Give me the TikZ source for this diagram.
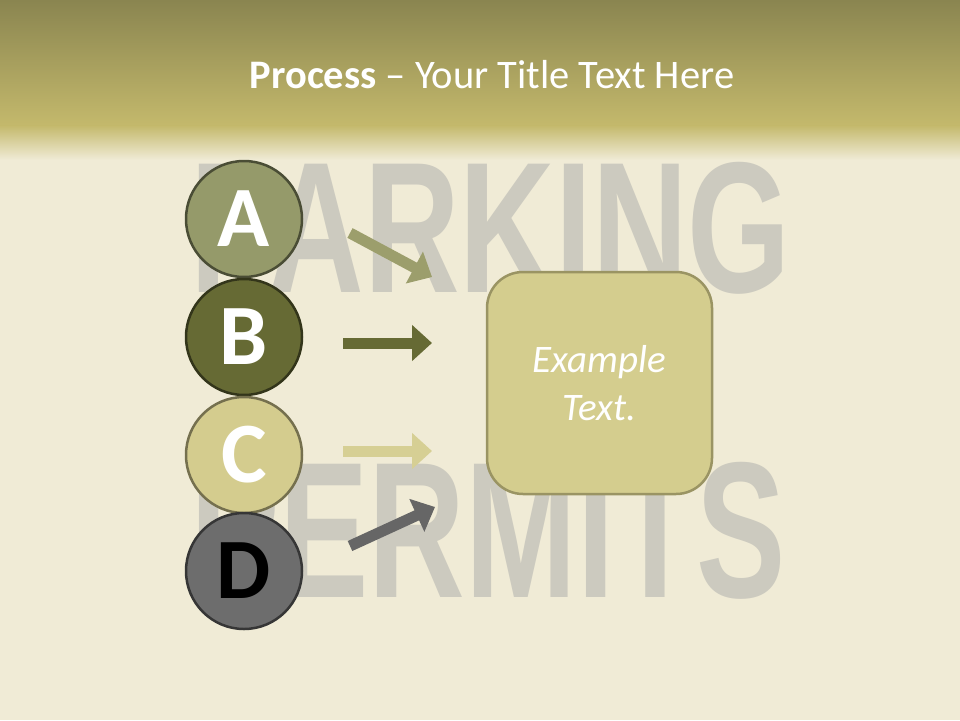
\documentclass[tikz,border=0pt]{standalone}
\usepackage{fontspec}
\setmainfont{Carlito}
\newfontfamily\bgfont{Liberation Sans}
\usetikzlibrary{arrows.meta}
\definecolor{paper}{HTML}{F0EBD6}
\definecolor{headtop}{HTML}{8A8550}
\definecolor{headbot}{HTML}{C4B96C}
\definecolor{stencil}{HTML}{CCCABF}
\definecolor{cA}{HTML}{959A6A}
\definecolor{cB}{HTML}{666A34}
\definecolor{cC}{HTML}{D4CC8E}
\definecolor{cD}{HTML}{6D6D6D}
\definecolor{aA}{HTML}{9C9E6C}
\definecolor{aC}{HTML}{D6CF94}
\definecolor{aD}{HTML}{666666}
\definecolor{boxfill}{HTML}{D4CD8E}
\definecolor{boxline}{HTML}{9A9463}
\tikzset{
  letter/.style={circle, minimum size=116pt, inner sep=0pt, line width=2.5pt,
    font=\fontsize{86}{86}\selectfont\bfseries},
  fatarrow/.style={line width=11pt, -{Triangle[length=20pt,width=35pt]}},
  bgword/.style={anchor=south west, inner sep=0pt, text=stencil, font=\bgfont\bfseries}
}
\begin{document}
\begin{tikzpicture}[x=1pt,y=-1pt]
\useasboundingbox (0,0) rectangle (960,720);
\fill[paper] (0,0) rectangle (960,720);
\shade[top color=headtop, bottom color=headbot] (0,0) rectangle (960,126);
\shade[top color=headbot, bottom color=paper] (0,125.5) rectangle (960,160);
% faded background stencil words
\node[bgword] (w1) at (190,295) {\resizebox{600pt}{130pt}{PARKING}};
\node[bgword] (w2) at (190,600) {\resizebox{595pt}{135pt}{PERMITS}};
% title
\node[text=white, font=\fontsize{40.5}{40.5}\selectfont] (title) at (492,75)
  {\textbf{Process} – Your Title Text Here};
% circles
\node[letter, fill=cA, draw=cA!50!black, text=white] (A) at (244,219) {A};
\node[letter, fill=cB, draw=cB!50!black, text=white] (B) at (244,337) {B};
\node[letter, fill=cC, draw=cC!55!black, text=white] (C) at (244,455) {C};
\node[letter, fill=cD, draw=cD!50!black, text=black] (D) at (244,571) {D};
% box
\node[draw=boxline, fill=boxfill, line width=2.5pt, rounded corners=36pt,
  minimum width=225pt, minimum height=222pt, inner sep=0pt, text=white,
  align=center, font=\fontsize{39}{48}\selectfont\itshape] (box) at (599.5,383)
  {Example\\Text.};
% arrows
\coordinate (a1) at (350,233); \coordinate (a2) at (432,277);
\coordinate (b1) at (343,343); \coordinate (b2) at (432,343);
\coordinate (c1) at (343,451); \coordinate (c2) at (432,451);
\coordinate (d1) at (350,546); \coordinate (d2) at (435,507);
\draw[fatarrow, aA] (a1) -- (a2);
\draw[fatarrow, cB] (b1) -- (b2);
\draw[fatarrow, aC] (c1) -- (c2);
\draw[fatarrow, aD] (d1) -- (d2);
\end{tikzpicture}
\end{document}
